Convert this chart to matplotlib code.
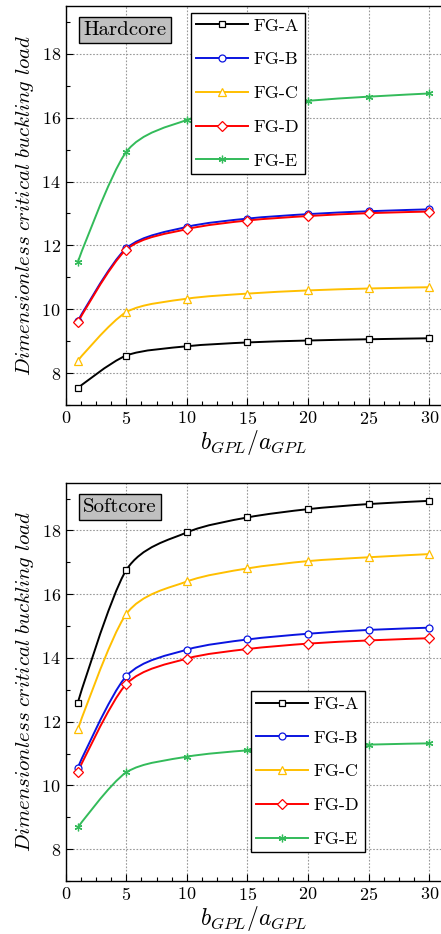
import numpy as np
import matplotlib
matplotlib.use("Agg")
import matplotlib.pyplot as plt
from matplotlib.ticker import MultipleLocator
from matplotlib.path import Path
from matplotlib.patches import PathPatch

plt.rcParams['font.family'] = 'serif'
plt.rcParams['font.serif'] = ['cmr10', 'DejaVu Serif']
plt.rcParams['mathtext.fontset'] = 'cm'
plt.rcParams['axes.formatter.use_mathtext'] = True

x_vals = [1, 5, 10, 15, 20, 25, 30]
series_names = ['FG-A', 'FG-B', 'FG-C', 'FG-D', 'FG-E']

hard_A = [7.53, 8.55, 8.84, 8.96, 9.02, 9.06, 9.09]
hard_B = [9.63, 11.91, 12.58, 12.84, 12.98, 13.07, 13.13]
hard_C = [8.39, 9.91, 10.33, 10.49, 10.59, 10.65, 10.69]
hard_D = [9.59, 11.87, 12.51, 12.78, 12.92, 13.01, 13.06]
hard_E = [11.48, 14.93, 15.93, 16.33, 16.53, 16.66, 16.76]

soft_A = [12.60, 16.76, 17.94, 18.41, 18.67, 18.83, 18.93]
soft_B = [10.56, 13.43, 14.26, 14.58, 14.76, 14.88, 14.95]
soft_C = [11.76, 15.38, 16.40, 16.81, 17.04, 17.16, 17.26]
soft_D = [10.42, 13.18, 13.98, 14.28, 14.45, 14.55, 14.62]
soft_E = [8.68, 10.41, 10.90, 11.10, 11.20, 11.28, 11.32]

panel_titles = ['Hardcore', 'Softcore']
x_ticks = [0, 5, 10, 15, 20, 25, 30]
y_ticks = [8, 10, 12, 14, 16, 18]

colors = ['black', '#0a14e0', '#ffbf00', '#ff0000', '#33bb5a']
markers = ['s', 'o', '^', 'D', (6, 2, 0)]
msizes = [4.6, 5.0, 5.6, 4.6, 5.5]
TENSION = 0.14


def smooth_path(x, y, s=TENSION):
    """Smooth Bezier path through the data points (TikZ 'smooth' style)."""
    P = np.column_stack([np.asarray(x, float), np.asarray(y, float)])
    n = len(P)
    verts = [P[0]]
    codes = [Path.MOVETO]
    for i in range(n - 1):
        c1 = P[i] if i == 0 else P[i] + s * (P[i + 1] - P[i - 1])
        c2 = P[i + 1] if i + 1 == n - 1 else P[i + 1] - s * (P[i + 2] - P[i])
        verts += [c1, c2, P[i + 1]]
        codes += [Path.CURVE4] * 3
    return Path(np.array(verts), codes)


fig = plt.figure(figsize=(4.41, 9.34), dpi=100)
W, H = 441.0, 934.0
ax_specs = [(65.7, 6.0, 441.4, 405.0), (65.7, 482.7, 441.4, 881.0)]
data = [[hard_A, hard_B, hard_C, hard_D, hard_E],
        [soft_A, soft_B, soft_C, soft_D, soft_E]]
legend_anchor = [(190.7, 12.7), (250.7, 691.0)]

for p in range(2):
    l, t, r, b = ax_specs[p]
    ax = fig.add_axes([l / W, 1 - b / H, (r - l) / W, (b - t) / H])
    handles = []
    for i in range(5):
        yv = data[p][i]
        ax.add_patch(PathPatch(smooth_path(x_vals, yv), fill=False,
                               edgecolor=colors[i], lw=1.4, zorder=3,
                               capstyle='round', joinstyle='round'))
        ax.plot(x_vals, yv, linestyle='none', marker=markers[i], ms=msizes[i],
                mfc='white', mec=colors[i], mew=0.9, zorder=4)
        h, = ax.plot([], [], color=colors[i], lw=1.4, marker=markers[i], ms=msizes[i],
                     mfc='white', mec=colors[i], mew=0.9, label=series_names[i])
        handles.append(h)
    ax.set_xlim(0, 31)
    ax.set_ylim(7, 19.5)
    ax.set_xticks(x_ticks)
    ax.set_yticks(y_ticks)
    ax.xaxis.set_minor_locator(MultipleLocator(1.25))
    ax.yaxis.set_minor_locator(MultipleLocator(1))
    ax.tick_params(which='both', direction='in', top=False, right=False, labelsize=13)
    ax.tick_params(which='major', length=5, width=0.8)
    ax.tick_params(which='minor', length=3, width=0.8)
    ax.grid(True, which='major', color='#999999', linestyle=(0, (1.5, 1.5)), lw=0.8)
    ax.set_axisbelow(True)
    ax.spines['right'].set_visible(False)
    for s in ax.spines.values():
        s.set_linewidth(1.0)
    ax.set_ylabel(r'$\mathit{Dimensionless\ critical\ buckling\ load}$', fontsize=15, labelpad=4)
    ax.set_xlabel(r'$b_{GPL}/a_{GPL}$', fontsize=17, labelpad=1)
    ax.text(0.047, 0.962, panel_titles[p], transform=ax.transAxes, fontsize=15,
            ha='left', va='top',
            bbox=dict(boxstyle='square,pad=0.2', fc='#c0c0c0', ec='black', lw=1.0))
    ax_w = r - l; ax_h = b - t
    fx = (legend_anchor[p][0] - l) / ax_w
    fy = 1 - (legend_anchor[p][1] - t) / ax_h
    leg = ax.legend(handles=handles, loc='upper left', bbox_to_anchor=(fx, fy),
                    bbox_transform=ax.transAxes,
                    fontsize=13, frameon=True, fancybox=False, edgecolor='black',
                    framealpha=1, handlelength=2.9, labelspacing=1.0,
                    borderpad=0.3, handletextpad=0.3, borderaxespad=0.0)
    leg.get_frame().set_linewidth(1.0)

fig.savefig('out.png', dpi=100)
